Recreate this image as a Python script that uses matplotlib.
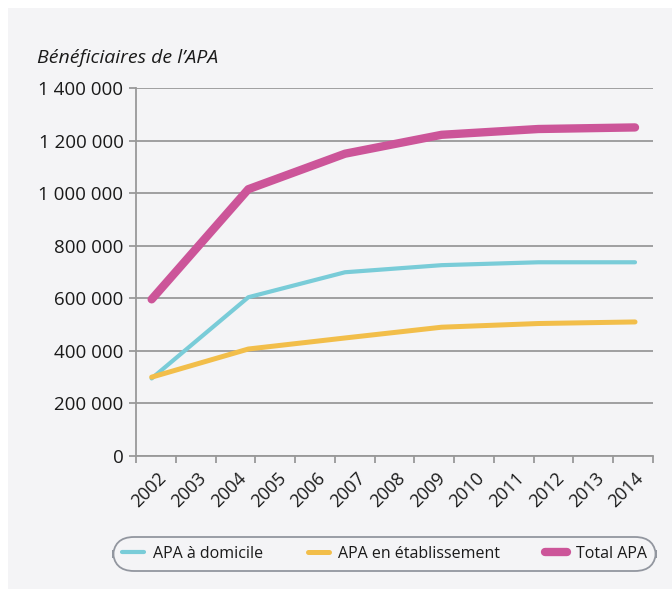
import matplotlib
matplotlib.use("Agg")
import matplotlib.pyplot as plt
from matplotlib.patches import Rectangle
import matplotlib.transforms as mtrans
import numpy as np

plt.rcParams['font.family'] = ['Open Sans', 'DejaVu Sans']

years = [str(y) for y in range(2002, 2015)]
point_index = [0, 1, 2, 3, 4, 5]
apa_domicile = [295000, 604000, 699000, 726000, 737000, 737000]
apa_etablissement = [300000, 407000, 449000, 490000, 504000, 510000]
total_apa = [596000, 1015000, 1150000, 1222000, 1244000, 1250000]
series_labels = ["APA à domicile", "APA en établissement", "Total APA"]
y_ticks = [0, 200000, 400000, 600000, 800000, 1000000, 1200000, 1400000]
y_title = "Bénéficiaires de l\u2019APA"

W, H = 672, 589
fig = plt.figure(figsize=(W / 100, H / 100), dpi=100, facecolor='white')
bg = '#f4f4f6'
fig.patches.append(Rectangle((8 / W, 0), 1 - 8 / W, 1 - 8 / H, transform=fig.transFigure,
                             facecolor=bg, edgecolor='none', zorder=-10))

left, right, top, bottom = 136, 653, 88, 456
ax = fig.add_axes([left / W, 1 - bottom / H, (right - left) / W, (bottom - top) / H])
ax.set_facecolor('none')
grid_c = '#999999'
txt_c = '#1a1a1a'
ax.set_ylim(0, 1400000)
ax.set_yticks(y_ticks)
ax.set_yticklabels([f"{v:,}".replace(",", " ") for v in y_ticks], fontsize=13.5, color=txt_c)
ax.yaxis.grid(True, color=grid_c, lw=1.3)
ax.set_axisbelow(True)

n = len(years)
ax.set_xlim(-0.5, n - 0.5)
ax.set_xticks(np.arange(-0.5, n, 1.0))
ax.set_xticklabels([])
ax.set_xticks(np.arange(n), minor=True)
ax.set_xticklabels(years, minor=True, rotation=45, ha='right', va='center',
                   rotation_mode='anchor', fontsize=13, color=txt_c)
ax.tick_params(axis='x', which='minor', length=0, pad=14)
ax.tick_params(axis='x', which='major', length=5, width=1.3, color=grid_c)
ax.tick_params(axis='y', length=5, width=1.3, color=grid_c, pad=4)
for s in ['top', 'right']:
    ax.spines[s].set_visible(False)
for s in ['left', 'bottom']:
    ax.spines[s].set_color(grid_c)
    ax.spines[s].set_linewidth(1.3)

off = mtrans.ScaledTranslation(8 / 100, 0, fig.dpi_scale_trans)
for lab in ax.get_xticklabels(minor=True):
    lab.set_transform(lab.get_transform() + off)

ax2 = ax.twiny()
ax2.set_xlim(-0.162, 5.186)
ax2.axis('off')
l1, = ax2.plot(point_index, apa_domicile, color='#79ccd8', lw=3.0, solid_capstyle='round',
               solid_joinstyle='round', label=series_labels[0])
l2, = ax2.plot(point_index, apa_etablissement, color='#f2be4a', lw=3.6, solid_capstyle='round',
               solid_joinstyle='round', label=series_labels[1])
l3, = ax2.plot(point_index, total_apa, color='#cc5599', lw=6.0, solid_capstyle='round',
               solid_joinstyle='round', label=series_labels[2])

fig.text(37 / W, 1 - 63 / H, y_title, fontsize=14, style='italic', color=txt_c, va='baseline')

leg = fig.legend(handles=[l1, l2, l3], loc='center', ncol=3, mode='expand',
                 bbox_to_anchor=(115 / W, 1 - 570 / H, 539 / W, 32 / H),
                 fontsize=11.5, frameon=True, fancybox=True, handlelength=1.35,
                 handletextpad=0.55, borderpad=0.45, borderaxespad=0, facecolor=bg,
                 edgecolor='#7a7f8a', labelcolor=txt_c)
leg.get_frame().set_linewidth(1.3)
leg.get_frame().set_boxstyle('round,pad=0.1,rounding_size=1.3')
for h in leg.legend_handles:
    h.set_solid_capstyle('round')

fig.savefig('out.png', dpi=100, facecolor='white')
